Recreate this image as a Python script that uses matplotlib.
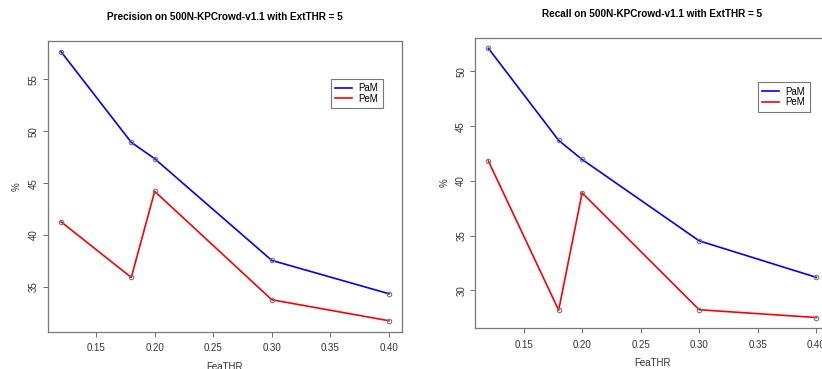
import numpy as np
import matplotlib
matplotlib.use('Agg')
import matplotlib.pyplot as plt

# data
fea_thr = [0.12, 0.18, 0.20, 0.30, 0.40]
prec_pam = [57.66, 48.93, 47.35, 37.56, 34.35]
prec_pem = [41.28, 35.92, 44.21, 33.77, 31.75]
rec_pam = [52.10, 43.70, 41.96, 34.53, 31.20]
rec_pem = [41.81, 28.20, 38.91, 28.24, 27.53]
x_ticks = [0.15, 0.20, 0.25, 0.30, 0.35, 0.40]
prec_yticks = [35, 40, 45, 50, 55]
rec_yticks = [30, 35, 40, 45, 50]

plt.rcParams['font.family'] = ['Liberation Sans', 'DejaVu Sans']

W, H = 822, 369
fig = plt.figure(figsize=(W / 100, H / 100), dpi=100)


def r_limits(v):
    # R pads the data range by 4% on each side
    lo, hi = min(v), max(v)
    pad = (hi - lo) * 0.04
    return lo - pad, hi + pad


def panel(box, title, pam, pem, yticks, leg_pos):
    x0, y0, x1, y1 = box  # pixel coords, top-left origin
    ax = fig.add_axes([x0 / W, 1 - y1 / H, (x1 - x0) / W, (y1 - y0) / H])
    ax.plot(fea_thr, pam, color='#0000ff', lw=1.2, label='PaM', zorder=2)
    ax.plot(fea_thr, pem, color='#ff0000', lw=1.2, label='PeM', zorder=2)
    for s in (pam, pem):
        ax.plot(fea_thr, s, ls='none', marker='o', ms=3.2, mfc='none',
                mec='#777777', mew=0.8, zorder=3)
    ax.set_xlim(*r_limits(fea_thr))
    ax.set_ylim(*r_limits(pam + pem))
    ax.set_xticks(x_ticks)
    ax.set_xticklabels(['%.2f' % t for t in x_ticks])
    ax.set_yticks(yticks)
    ax.set_yticklabels([str(t) for t in yticks], rotation=90, va='center')
    ax.tick_params(labelsize=7, length=3.5, width=0.6, color='#555555',
                   labelcolor='#333333', pad=5)
    ax.tick_params(axis='y', pad=3)
    for sp in ax.spines.values():
        sp.set_color('#777777')
        sp.set_linewidth(0.9)
    ax.set_title(title, fontsize=7.2, fontweight='bold', pad=15)
    ax.set_xlabel('FeaTHR', fontsize=7, color='#333333', labelpad=6)
    ax.set_ylabel('%', fontsize=7, color='#333333', labelpad=5)
    leg = ax.legend(loc='upper left', bbox_to_anchor=leg_pos, fontsize=7,
                    frameon=True, fancybox=False, handlelength=1.7,
                    handletextpad=0.7, borderpad=0.45, labelspacing=0.05,
                    borderaxespad=0)
    leg.get_frame().set_edgecolor('#555555')
    leg.get_frame().set_linewidth(0.8)
    return ax


panel((47.9, 40.9, 402, 331.5),
      'Precision on 500N-KPCrowd-v1.1 with ExtTHR = 5',
      prec_pam, prec_pem, prec_yticks,
      ((331 - 47.9) / (402 - 47.9), (331.5 - 79) / (331.5 - 40.9)))
panel((475.3, 37.6, 829.4, 328.3),
      'Recall on 500N-KPCrowd-v1.1 with ExtTHR = 5',
      rec_pam, rec_pem, rec_yticks,
      ((758 - 475.3) / (829.4 - 475.3), (328.3 - 82.3) / (328.3 - 37.6)))

fig.savefig('out.png', dpi=100)
